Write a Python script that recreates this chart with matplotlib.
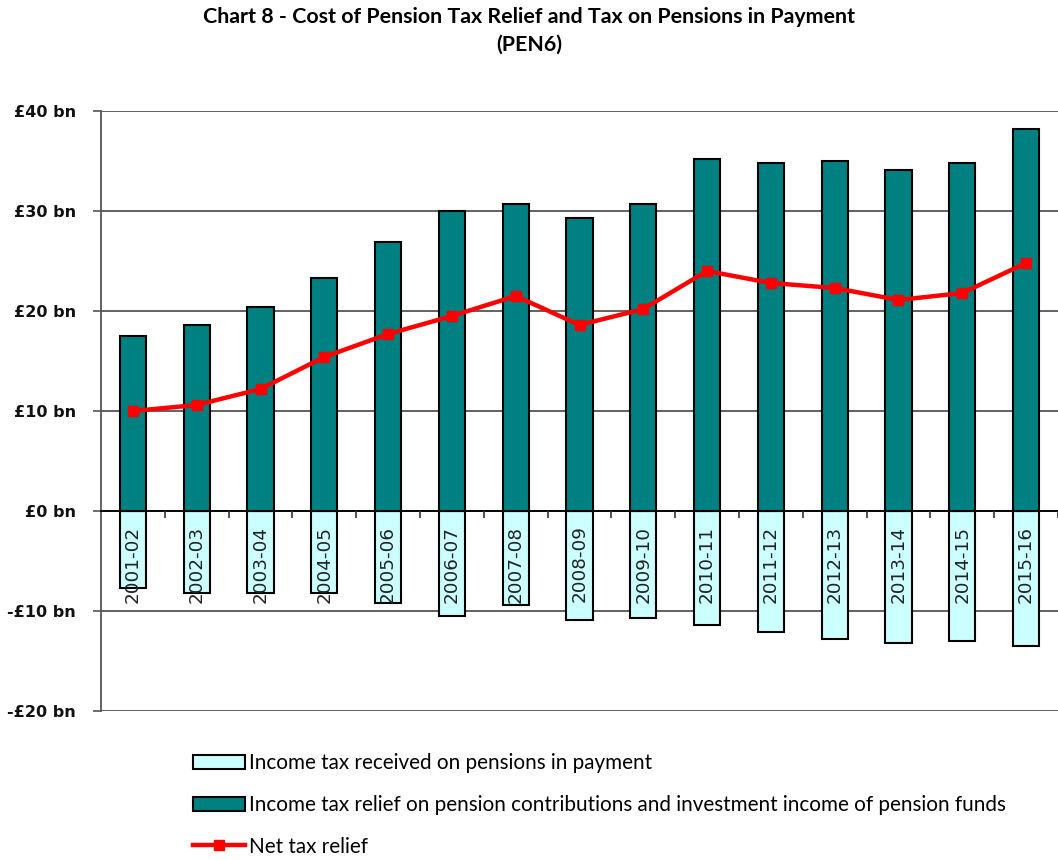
import matplotlib
matplotlib.use("Agg")
import matplotlib.pyplot as plt
from matplotlib.ticker import FixedLocator, FuncFormatter

years = ["2001-02", "2002-03", "2003-04", "2004-05", "2005-06", "2006-07", "2007-08",
         "2008-09", "2009-10", "2010-11", "2011-12", "2012-13", "2013-14", "2014-15", "2015-16"]
tax_received = [-7.7, -8.2, -8.2, -8.2, -9.2, -10.5, -9.4, -10.9, -10.7, -11.4, -12.1, -12.8, -13.2, -13.0, -13.5]
tax_relief = [17.5, 18.6, 20.4, 23.3, 26.9, 30.0, 30.7, 29.3, 30.7, 35.2, 34.8, 35.0, 34.1, 34.8, 38.2]
net_relief = [10.0, 10.6, 12.2, 15.4, 17.7, 19.5, 21.5, 18.6, 20.2, 24.0, 22.8, 22.3, 21.1, 21.8, 24.8]
y_ticks = [-20, -10, 0, 10, 20, 30, 40]

narrow = ["Lato", "DejaVu Sans"]

fig = plt.figure(figsize=(10.58, 8.6), dpi=100)
ax = fig.add_axes([101/1058, 1 - 711/860, 1 - 101/1058, 600/860])

x = list(range(len(years)))
w = 0.41
b1 = ax.bar(x, tax_received, width=w, color="#CCFFFF", edgecolor="black", linewidth=1.5, zorder=3,
            label="Income tax received on pensions in payment")
b2 = ax.bar(x, tax_relief, width=w, color="#008080", edgecolor="black", linewidth=1.5, zorder=3,
            label="Income tax relief on pension contributions and investment income of pension funds")
l1, = ax.plot(x, net_relief, color="#FF0000", linewidth=3.2, marker="s", markersize=6.5, zorder=7,
              label="Net tax relief")

ax.set_ylim(-20, 40)
ax.set_xlim(-0.5, 14.44)
ax.yaxis.set_major_locator(FixedLocator(y_ticks))
ax.yaxis.set_major_formatter(FuncFormatter(lambda v, p: ("-£%d bn" % abs(v)) if v < 0 else ("£%d bn" % v)))
ax.grid(axis="y", color="#555555", linewidth=1.3)
ax.yaxis.set_zorder(0.5)
ax.tick_params(axis="y", length=6, width=1.2, color="#555555", labelsize=11.5, pad=12)
for lab in ax.get_yticklabels():
    lab.set_fontweight("bold")
    lab.set_color("#111111")

# x axis at zero
ax.spines["bottom"].set_position(("data", 0))
ax.spines["bottom"].set_color("black")
ax.spines["bottom"].set_linewidth(1.3)
ax.spines["bottom"].set_zorder(4)
ax.spines["top"].set_visible(False)
ax.spines["right"].set_visible(False)
ax.spines["left"].set_color("#555555")
ax.spines["left"].set_linewidth(1.3)
ax.set_xticks(x)
ax.set_xticklabels(years, rotation=90, fontsize=13.2, color="#222222")
ax.tick_params(axis="x", which="major", length=0, pad=10.5)
ax.set_xticks([i + 0.5 for i in x], minor=True)
ax.tick_params(axis="x", which="minor", length=5, width=1.2, direction="out", color="#333333")
ax.xaxis.set_zorder(6)

fig.text(0.5, 1 - 17/860, "Chart 8 - Cost of Pension Tax Relief and Tax on Pensions in Payment",
         ha="center", va="center", fontsize=15.4, fontweight="bold", family=narrow)
fig.text(0.5, 1 - 45/860, "(PEN6)", ha="center", va="center", fontsize=15.4, fontweight="bold", family=narrow)

leg = fig.legend([b1, b2, l1], [b1.get_label(), b2.get_label(), l1.get_label()],
                 loc="upper left", bbox_to_anchor=(185/1058, 1 - 745/860), frameon=False,
                 prop={"family": narrow, "size": 14.9}, handlelength=2.5, handleheight=0.7,
                 labelspacing=1.05, handletextpad=0.2, borderaxespad=0)

fig.savefig("out.png", dpi=100)
